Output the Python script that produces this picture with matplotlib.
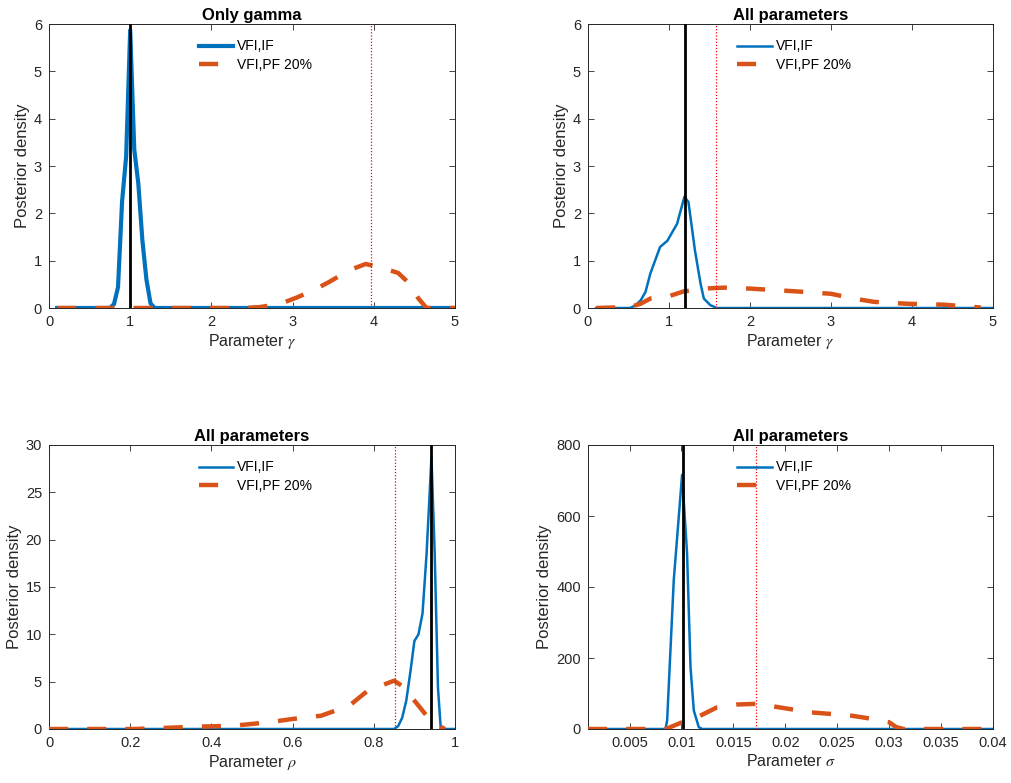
import numpy as np
import matplotlib
matplotlib.use("Agg")
import matplotlib.pyplot as plt
from matplotlib.ticker import FuncFormatter

plt.rcParams['font.family'] = ['Liberation Sans', 'DejaVu Sans']
plt.rcParams['mathtext.fontset'] = 'stix'

BLUE = '#0072BD'
ORANGE = '#D95319'
GREY = '#262626'

# --- panel 1: only gamma ---
g1_if_x = [0.1, 0.75, 0.8, 0.85, 0.9, 0.95, 1.0, 1.05, 1.1, 1.15, 1.2, 1.25, 1.3, 5.0]
g1_if_y = [0, 0, 0.08, 0.44, 2.25, 3.2, 5.87, 3.35, 2.63, 1.43, 0.6, 0.1, 0.0, 0]
g1_pf_x = [0.1, 2.4, 2.6, 2.85, 3.05, 3.25, 3.45, 3.7, 3.9, 4.1, 4.3, 4.45, 4.55, 4.65, 5.0]
g1_pf_y = [0, 0, 0.02, 0.09, 0.22, 0.37, 0.55, 0.8, 0.93, 0.85, 0.74, 0.5, 0.2, 0.0, 0]
g1_true, g1_mark = 1.0, 3.97

# --- panel 2: all parameters, gamma ---
g2_if_x = [0.1, 0.52, 0.58, 0.65, 0.71, 0.77, 0.89, 0.98, 1.1, 1.19, 1.24, 1.32, 1.39, 1.43, 1.51, 1.59, 5.0]
g2_if_y = [0, 0, 0.05, 0.16, 0.34, 0.73, 1.29, 1.42, 1.78, 2.35, 2.24, 1.22, 0.51, 0.2, 0.06, 0, 0]
g2_pf_x = [0.1, 0.52, 0.65, 0.77, 1.0, 1.18, 1.43, 1.68, 2.0, 2.58, 3.0, 3.28, 3.53, 3.94, 4.39, 4.85]
g2_pf_y = [0, 0.02, 0.09, 0.2, 0.25, 0.35, 0.41, 0.43, 0.41, 0.35, 0.3, 0.2, 0.13, 0.09, 0.07, 0.01]
g2_true, g2_mark = 1.2, 1.58

# --- panel 3: all parameters, rho ---
r_if_x = [0.0, 0.85, 0.86, 0.87, 0.88, 0.89, 0.90, 0.91, 0.92, 0.93, 0.942, 0.95, 0.958, 0.965, 1.0]
r_if_y = [0, 0, 0.3, 1.2, 3.0, 6.0, 9.3, 10.0, 12.2, 18.5, 28.7, 18.5, 4.4, 0, 0]
r_pf_x = [0.0, 0.21, 0.37, 0.455, 0.54, 0.6, 0.67, 0.74, 0.785, 0.85, 0.868, 0.9, 0.94, 0.967, 0.975]
r_pf_y = [0, 0, 0.25, 0.35, 0.7, 1.06, 1.4, 2.47, 4.05, 5.1, 4.6, 3.0, 0.88, 0.18, 0]
r_true, r_mark = 0.94, 0.851

# --- panel 4: all parameters, sigma ---
s_if_x = [0.001, 0.00846, 0.00862, 0.00926, 0.01006, 0.01054, 0.01087, 0.01119, 0.01167, 0.0120, 0.04]
s_if_y = [0, 0, 24, 420, 716, 495, 175, 52, 5, 0, 0]
s_pf_x = [0.001, 0.0085, 0.01006, 0.0115, 0.01343, 0.01535, 0.01728, 0.01984, 0.0224, 0.02625, 0.0285, 0.030, 0.0307, 0.0314, 0.04]
s_pf_y = [0, 0, 19, 33, 61, 69, 71, 59, 47, 38, 28, 19, 5, 0, 0]
s_true, s_mark = 0.0101, 0.01721

fig = plt.figure(figsize=(10.11, 7.83), dpi=100)
W, H = 1011, 783


def make_axes(l, t, r, b):
    return fig.add_axes([l / W, 1 - b / H, (r - l) / W, (b - t) / H])


fmt = FuncFormatter(lambda v, p: '%g' % v)


def panel(ax, if_x, if_y, pf_x, pf_y, true, mark, title, xlabel,
          xlim, xticks, ylim, yticks, if_lw):
    ax.plot(if_x, if_y, color=BLUE, lw=if_lw, label='VFI,IF', zorder=2)
    ax.plot(pf_x, pf_y, color=ORANGE, lw=3.2, dashes=(4.3, 4.3),
            label='VFI,PF 20%', zorder=3)
    ax.axvline(true, color='black', lw=2.0, zorder=4)
    ax.axvline(mark, color='red', lw=0.9, ls=(0, (1, 1.5)), zorder=5)
    ax.set_xlim(*xlim)
    ax.set_ylim(*ylim)
    ax.set_xticks(xticks)
    ax.set_yticks(yticks)
    ax.xaxis.set_major_formatter(fmt)
    ax.yaxis.set_major_formatter(fmt)
    ax.tick_params(direction='in', top=True, right=True, length=4,
                   width=0.6, colors=GREY, labelsize=10.5, pad=5)
    for s in ax.spines.values():
        s.set_color(GREY)
        s.set_linewidth(0.7)
    ax.set_title(title, fontsize=12, fontweight='bold', pad=3)
    ax.set_xlabel(xlabel, fontsize=11.5, color=GREY, labelpad=2)
    ax.set_ylabel('Posterior density', fontsize=12, color=GREY, labelpad=3)
    ax.legend(loc='upper left', bbox_to_anchor=(0.355, 0.965), frameon=False,
              fontsize=10, handlelength=2.5, handletextpad=0.25,
              labelspacing=0.35, borderaxespad=0)


ax1 = make_axes(49, 24, 455, 308)
panel(ax1, g1_if_x, g1_if_y, g1_pf_x, g1_pf_y, g1_true, g1_mark,
      'Only gamma', r'Parameter $\gamma$', (0, 5), range(6), (0, 6), range(7), 3.0)

ax2 = make_axes(588, 24, 993, 308)
panel(ax2, g2_if_x, g2_if_y, g2_pf_x, g2_pf_y, g2_true, g2_mark,
      'All parameters', r'Parameter $\gamma$', (0, 5), range(6), (0, 6), range(7), 1.8)

ax3 = make_axes(49, 445, 455, 729)
panel(ax3, r_if_x, r_if_y, r_pf_x, r_pf_y, r_true, r_mark,
      'All parameters', r'Parameter $\rho$', (0, 1), np.arange(0, 1.01, 0.2),
      (0, 30), range(0, 31, 5), 1.8)

ax4 = make_axes(588, 445, 993, 729)
panel(ax4, s_if_x, s_if_y, s_pf_x, s_pf_y, s_true, s_mark,
      'All parameters', r'Parameter $\sigma$', (0.001, 0.04),
      np.arange(0.005, 0.0401, 0.005), (0, 800), range(0, 801, 200), 1.8)

fig.savefig('out.png', dpi=100)
